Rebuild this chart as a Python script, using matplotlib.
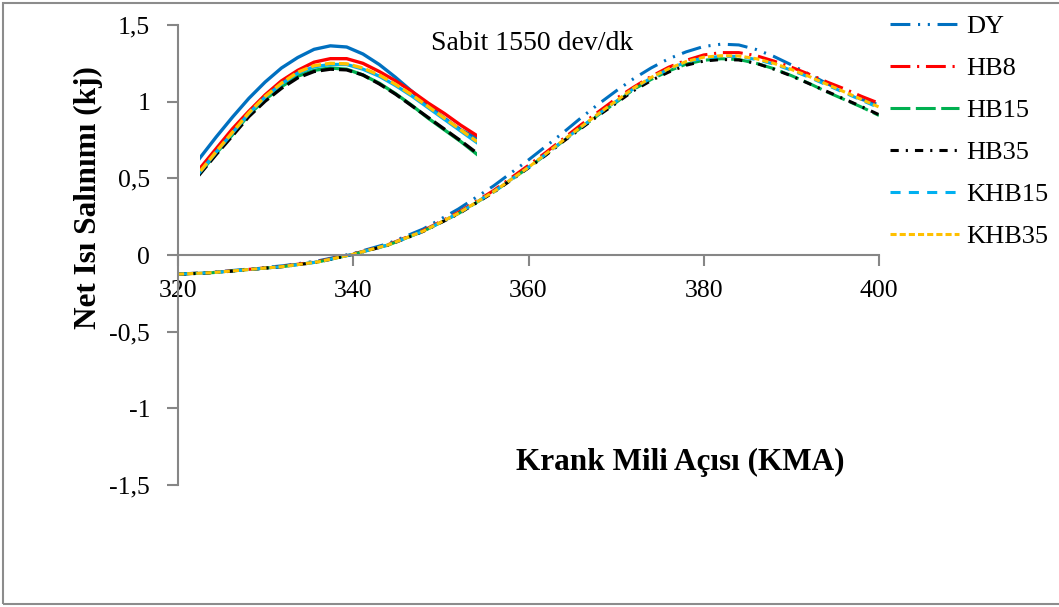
import matplotlib.pyplot as plt
from matplotlib.patches import Rectangle
from matplotlib.ticker import FuncFormatter

plt.rcParams['font.family'] = ['Liberation Serif', 'DejaVu Serif']

# Krank mili açısı (KMA)
kma = [320, 324, 328, 332, 336, 340, 344, 348, 352, 356, 360,
       362, 364, 366, 368, 370, 372, 374, 376, 378, 380,
       382, 384, 386, 388, 390, 392, 394, 396, 398, 400]

# Net ısı salınımı (kj)
dy = [-0.125, -0.112, -0.092, -0.070, -0.038, 0.010, 0.075, 0.170, 0.300, 0.450, 0.620,
      0.710, 0.800, 0.895, 0.985, 1.070, 1.150, 1.220, 1.280, 1.325, 1.360,
      1.375, 1.370, 1.340, 1.295, 1.240, 1.180, 1.120, 1.065, 1.015, 0.980]
hb8 = [-0.125, -0.114, -0.094, -0.073, -0.042, 0.007, 0.068, 0.160, 0.278, 0.420, 0.585,
       0.670, 0.760, 0.850, 0.935, 1.020, 1.095, 1.165, 1.225, 1.270, 1.305,
       1.320, 1.320, 1.300, 1.265, 1.225, 1.180, 1.130, 1.085, 1.035, 0.990]
hb15 = [-0.125, -0.115, -0.095, -0.075, -0.045, 0.005, 0.065, 0.155, 0.270, 0.410, 0.570,
        0.655, 0.745, 0.830, 0.915, 0.995, 1.080, 1.145, 1.200, 1.245, 1.270,
        1.280, 1.275, 1.250, 1.215, 1.170, 1.120, 1.065, 1.015, 0.965, 0.910]
hb35 = [-0.126, -0.116, -0.096, -0.076, -0.046, 0.004, 0.064, 0.154, 0.268, 0.408, 0.568,
        0.652, 0.742, 0.826, 0.910, 0.990, 1.072, 1.138, 1.193, 1.238, 1.265,
        1.275, 1.272, 1.250, 1.212, 1.168, 1.118, 1.068, 1.018, 0.968, 0.915]
khb15 = [-0.125, -0.115, -0.095, -0.075, -0.045, 0.005, 0.066, 0.156, 0.272, 0.412, 0.572,
         0.658, 0.748, 0.834, 0.920, 1.002, 1.085, 1.155, 1.212, 1.258, 1.285,
         1.295, 1.295, 1.275, 1.245, 1.205, 1.160, 1.110, 1.060, 1.010, 0.960]
khb35 = [-0.125, -0.115, -0.095, -0.075, -0.045, 0.005, 0.066, 0.156, 0.272, 0.412, 0.572,
         0.660, 0.750, 0.836, 0.922, 1.005, 1.088, 1.158, 1.215, 1.262, 1.290,
         1.300, 1.298, 1.280, 1.250, 1.210, 1.165, 1.115, 1.065, 1.015, 0.965]

series = [
    ("DY", dy, "#0070C0", (0, (6.5, 2.5, 0.7, 2.5, 0.7, 2.5))),
    ("HB8", hb8, "#FF0000", (0, (6.5, 2.2, 0.7, 2.2))),
    ("HB15", hb15, "#00B050", (0, (6.5, 1.8))),
    ("HB35", hb35, "#000000", (0, (2.7, 2.3, 0.7, 2.3))),
    ("KHB15", khb15, "#00B0F0", (0, (3.3, 2.7))),
    ("KHB35", khb35, "#FFC000", (0, (2.0, 1.0))),
]

W, H = 1059, 607
fig = plt.figure(figsize=(W / 100, H / 100), dpi=100)
fig.patches.append(Rectangle((3 / W, 3 / H), 1.0, 1 - 6 / H, transform=fig.transFigure,
                             fill=False, edgecolor="#8c8c8c", linewidth=1.5))

ax = fig.add_axes([178 / W, 1 - 485 / H, (879 - 178) / W, (485 - 25) / H])
for name, vals, col, ls in series:
    ax.plot(kma, vals, color=col, linestyle=ls, linewidth=2.2, label=name)

ax.set_xlim(320, 400)
ax.set_ylim(-1.5, 1.5)
ax.set_xticks([320, 340, 360, 380, 400])
ax.set_yticks([-1.5, -1, -0.5, 0, 0.5, 1, 1.5])
ax.yaxis.set_major_formatter(FuncFormatter(lambda v, p: f"{v:g}".replace(".", ",")))

gray = "#868686"
for s in ["top", "right"]:
    ax.spines[s].set_visible(False)
ax.spines["bottom"].set_position(("data", 0))
ax.spines["left"].set_color(gray)
ax.spines["bottom"].set_color(gray)
ax.spines["left"].set_linewidth(1.5)
ax.spines["bottom"].set_linewidth(1.5)
ax.tick_params(axis="y", direction="out", length=8, width=1.5, color=gray, labelsize=18.5, pad=12)
ax.tick_params(axis="x", direction="out", length=8, width=1.5, color=gray, labelsize=18.5, pad=10)
ax.patch.set_alpha(0)

fig.text(88 / W, 1 - 198 / H, "Net Isı Salınımı (kj)", rotation=90, fontsize=22.5,
         fontweight="bold", ha="center", va="center")
fig.text(680 / W, 1 - 462 / H, "Krank Mili Açısı (KMA)", fontsize=22.5,
         fontweight="bold", ha="center", va="center")
fig.text(532 / W, 1 - 43 / H, "Sabit 1550 dev/dk", fontsize=20, ha="center", va="center")

ax.legend(loc="upper left", bbox_to_anchor=(890 / W, 1 - 15 / H), bbox_transform=fig.transFigure,
          frameon=False, fontsize=19, handlelength=2.6, handletextpad=0.3,
          labelspacing=0.7, borderaxespad=0, borderpad=0)

# büyütülmüş tepe bölgesi
inset_styles = ["-", "-", "-", (0, (4, 1.5)), "-", (0, (3, 1.2))]
axin = fig.add_axes([200 / W, 1 - 180 / H, 277 / W, 140 / H])
for (name, vals, col, ls), ils in zip(series, inset_styles):
    axin.plot(kma, vals, color=col, linestyle=ils, linewidth=2.4)
axin.set_xlim(366, 400)
axin.set_ylim(0.80, 1.40)
axin.axis("off")

fig.savefig("out.png", dpi=100)
